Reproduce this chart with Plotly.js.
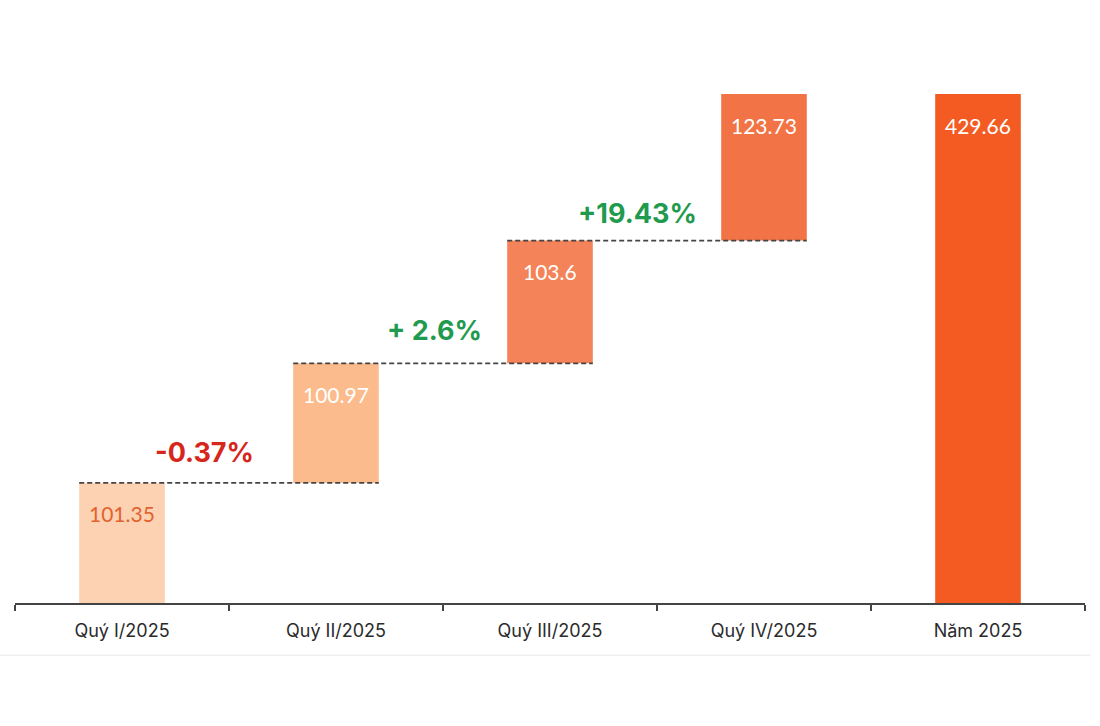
<!DOCTYPE html>
<html>
<head>
<meta charset="utf-8">
<script src="https://cdn.plot.ly/plotly-3.0.1.min.js"></script>
<style>html,body{margin:0;padding:0;background:#fff;}#chart{width:1100px;height:726px;}</style>
</head>
<body>
<div id="chart"></div>
<script>
const categories = ["Quý I/2025", "Quý II/2025", "Quý III/2025", "Quý IV/2025", "Năm 2025"];
const values = [101.35, 100.97, 103.6, 123.73, 429.66];
const measures = ["relative", "relative", "relative", "relative", "total"];
const valueLabels = ["101.35", "100.97", "103.6", "123.73", "429.66"];
const changeLabels = ["-0.37%", "+ 2.6%", "+19.43%"];
const changeColors = ["#d7261b", "#1f9a4e", "#1f9a4e"];
const barColors = ["#fdd2b3", "#fcbb8c", "#f5835a", "#f27446", "#f35b22"];
const labelColors = ["#e2622e", "#ffffff", "#ffffff", "#ffffff", "#ffffff"];

// compute bases and tops from data
const bases = [], tops = [];
let cum = 0;
values.forEach((v, i) => {
  if (measures[i] === "total") { bases.push(0); tops.push(v); }
  else { bases.push(cum); cum += v; tops.push(cum); }
});

const barHalf = 0.2;
const changeShiftX = [-25, -9, -20];
const changeShiftY = [30, 33, 27];
const trace = {
  type: "bar",
  x: categories,
  y: values,
  base: bases,
  width: barHalf * 2,
  marker: { color: barColors, line: { width: 0 } },
  hoverinfo: "skip",
  showlegend: false
};

const shapes = [];
const annotations = [];
for (let i = 0; i < changeLabels.length; i++) {
  const level = tops[i];
  shapes.push({
    type: "line", xref: "x", yref: "y",
    x0: i - barHalf, x1: i + 1 + barHalf, y0: level, y1: level,
    line: { color: "#444444", width: 1.8, dash: "5px,3px" }
  });
  annotations.push({
    x: i + 0.5, y: level, xref: "x", yref: "y",
    text: "<b>" + changeLabels[i] + "</b>",
    showarrow: false, yanchor: "middle", yshift: changeShiftY[i], xshift: changeShiftX[i],
    font: { family: "Inter, 'Noto Sans', sans-serif", size: 27, color: changeColors[i] }
  });
}
values.forEach((v, i) => {
  annotations.push({
    x: categories[i], y: tops[i], xref: "x", yref: "y",
    text: valueLabels[i], showarrow: false, yanchor: "middle", yshift: -31,
    font: { family: "Lato, 'Open Sans', sans-serif", size: 21, color: labelColors[i] }
  });
});
shapes.push({
  type: "line", xref: "paper", yref: "paper",
  x0: -0.014, x1: 1.005, y0: -0.096, y1: -0.096,
  line: { color: "#f0f0f0", width: 1.5 }
});

const layout = {
  width: 1100, height: 726,
  margin: { l: 15, r: 15, t: 60, b: 123 },
  paper_bgcolor: "#ffffff", plot_bgcolor: "#ffffff",
  xaxis: {
    type: "category", range: [-0.5, 4.5],
    showline: true, linecolor: "#444444", linewidth: 2,
    ticks: "outside", tickson: "boundaries", ticklen: 6, tickwidth: 2, tickcolor: "#444444",
    ticklabelstandoff: 10,
    showgrid: false, zeroline: false,
    tickfont: { family: "Inter, 'Noto Sans', sans-serif", size: 18, color: "#2b2b2b" }
  },
  yaxis: {
    range: [0, 458.36], visible: false, showgrid: false, zeroline: false
  },
  shapes: shapes,
  annotations: annotations,
  showlegend: false
};

Plotly.newPlot("chart", [trace], layout, { displayModeBar: false, staticPlot: true });
</script>
</body>
</html>
